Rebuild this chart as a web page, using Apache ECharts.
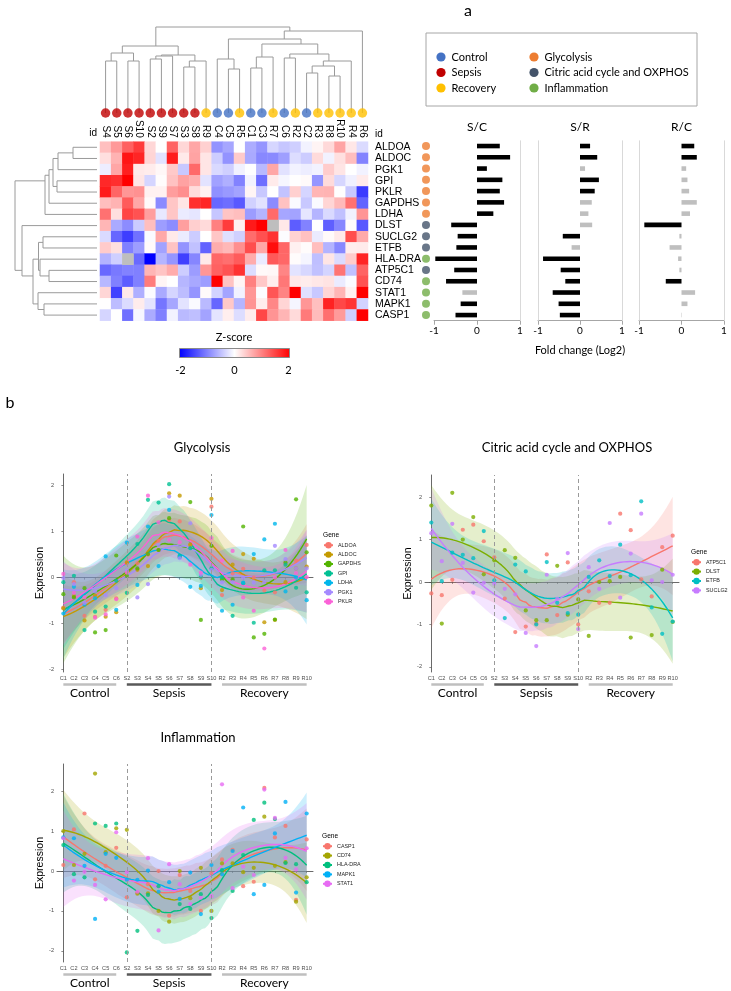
<!DOCTYPE html>
<html><head><meta charset="utf-8">
<script src="https://cdn.jsdelivr.net/npm/echarts@6/dist/echarts.min.js"></script>
<style>html,body{margin:0;padding:0;background:#fff}#c{width:731px;height:991px}</style>
</head><body><div id="c"></div>
<script>
// ================= DATA =================
const samples = ['C1','C2','C3','C4','C5','C6','S2','S3','S4','S5','S6','S7','S8','S9','S10','R2','R3','R4','R5','R6','R7','R8','R9','R10'];
const heatCols = ['S4','S5','S6','S10','S2','S9','S7','S3','S8','R9','C4','C5','R5','C1','C3','R7','C6','R2','C2','R3','R8','R10','R4','R6'];
const heatRows = ['ALDOA','ALDOC','PGK1','GPI','PKLR','GAPDHS','LDHA','DLST','SUCLG2','ETFB','HLA-DRA','ATP5C1','CD74','STAT1','MAPK1','CASP1'];
const rowPathway = ['G','G','G','G','G','G','G','C','C','C','I','C','I','I','I','I'];

// z-scored expression, in the order of `samples` (null = missing)
const zALDOA  = [-0.65,-0.10,-0.83,-0.85,-0.70,-0.45, 0.31,0.31,0.50,0.80,1.25,1.22,0.70,0.00,1.54, -0.38,0.09,0.19,0.00,-0.28,-0.32,0.30,0.37,0.71];
const zALDOC  = [-0.67,-0.40,-0.93,-0.39,-0.85,-0.75, 0.33,0.17,0.25,0.60,1.83,1.78,0.72,-0.23,1.71, -0.27,0.28,0.51,0.41,-0.97,-0.92,-0.10,0.20,0.24];
const zPGK1   = [-0.01,-0.14,-0.55,-0.30,-0.38,-0.23, 0.15,-0.43,-0.14,0.70,1.76,0.42,1.18,0.06,0.17, -0.10,-0.10,0.00,-0.11,-0.10,0.69,0.40,0.20,0.20];
const zGPI    = [-0.10,0.04,-1.14,-0.74,-0.63,-0.07, -0.33,0.73,1.69,1.63,2.03,0.48,0.64,0.02,0.20, 0.01,-0.83,-0.12,-0.98,0.16,0.16,0.28,-0.22,-0.32];
const zPKLR   = [0.08,-0.33,-0.43,-0.87,-0.80,-0.47, 0.11,0.89,1.78,1.20,0.82,0.77,0.28,0.11,0.86, 0.37,0.58,-0.43,-0.72,-1.54,0.00,0.60,0.10,0.01];
const zGAPDHS = [-0.36,-0.43,-0.23,-1.19,-1.14,0.48, 0.04,0.20,0.51,0.60,1.29,0.45,1.64,-0.92,0.69, -0.04,-0.04,1.11,-1.30,-1.22,-0.91,0.33,1.70,0.55];
const zLDHA   = [-0.78,-0.20,-0.59,-0.45,0.46,-0.70, 0.76,-0.16,1.11,0.25,1.47,0.45,-0.20,-0.18,1.36, -0.72,-0.59,-0.11,0.51,0.83,1.17,-0.30,0.00,-0.49];
const zDLST   = [1.80,-0.98,2.10,1.00,1.53,0.18, 0.51,0.75,0.57,-0.67,-0.90,-0.90,0.38,-0.77,-0.41, -1.27,0.00,0.02,0.12,-1.31,null,-1.25,0.29,-0.94];
const zSUCLG2 = [1.15,0.49,1.37,0.45,-0.25,-0.02, -0.04,-0.16,-0.29,-1.20,-1.51,0.17,-0.40,0.68,-1.11, 0.35,-0.16,1.39,-0.37,0.67,1.61,0.04,0.00,0.17];
const zETFB   = [1.40,0.02,0.69,0.64,0.56,1.20, 0.04,-0.85,0.41,0.25,-1.00,0.47,-0.49,-0.73,-0.77, 0.12,0.51,0.14,0.88,0.16,1.90,-0.60,-1.22,-0.93];
const zATP5C1 = [-0.27,-0.31,0.05,1.23,1.35,0.96, 0.58,-0.39,-1.18,-1.05,-0.98,0.65,-0.78,0.46,-1.00, -0.22,-0.49,-0.49,1.61,1.22,0.06,-0.34,0.82,1.09];
const zHLADRA = [0.65,-0.08,-0.16,1.19,1.13,1.19, -2.04,-1.50,-0.60,-0.38,null,-0.83,-0.95,-0.58,-1.18, 0.02,-0.50,0.40,1.28,1.71,1.30,0.20,0.17,-0.28];
const zCD74   = [1.00,0.15,0.43,2.44,0.47,1.07, 1.03,-0.57,-0.56,-1.00,-1.27,0.00,-0.68,0.08,-1.00, 0.19,0.19,-0.03,0.08,1.36,0.13,0.22,-0.77,-0.16];
const zSTAT1  = [0.82,-0.24,-0.02,-0.35,-0.71,0.97, -0.03,-0.52,0.32,-1.49,0.17,-0.33,-0.83,-0.67,-0.63, 2.17,-0.43,0.11,-0.10,2.04,1.33,0.33,0.04,0.57];
const zMAPK1  = [0.84,0.82,0.13,-1.20,0.43,0.33, -0.22,-0.22,0.01,-0.52,-0.28,-0.70,-0.04,-1.08,0.15, -0.08,0.50,1.59,-0.58,-0.35,0.94,1.73,-0.54,1.44];
const zCASP1  = [0.15,1.04,1.44,-0.21,0.13,0.58, -0.66,-0.54,-0.33,0.00,-1.12,-0.10,-0.50,-1.00,-0.06, 0.29,0.53,-0.38,-0.27,2.08,0.84,1.13,-0.72,0.79];

// dendrograms: [childA, childB, height]; numbers refer to earlier merges
const colTree = [
 ['S4','S5',52],['S6','S10',52],[0,1,60],['S2','S9',54],[3,'S7',57],['S3','S8',46],[5,'R9',52],[4,6,58],[2,7,67],
 ['C5','R5',44],['C4',9,54],['C1','C3',45],[11,'R7',56],['C6','R2',55],['C2','R3',40],['R8','R10',37],[14,15,47],[16,'R4',52],
 [13,17,59],[12,18,69],[10,19,74],[20,'R6',82],[8,21,86]
];
const rowTree = [
 ['ALDOA','ALDOC',24],[0,'PGK1',39],['GPI','PKLR',40],[1,2,44],[3,'GAPDHS',48],[4,'LDHA',52],
 ['SUCLG2','ETFB',54],['ATP5C1','CD74',48],['HLA-DRA',7,57],[6,8,58.5],['MAPK1','CASP1',53],['STAT1',10,59],
 [9,11,64],['DLST',12,75],[5,13,82]
];

// fold changes (log2), order of heatRows; sig: 1 = black, 0 = grey
const fcSC  = [0.53,0.77,0.23,0.59,0.53,0.63,0.38,-0.60,-0.45,-0.48,-0.97,-0.53,-0.72,-0.34,-0.38,-0.50];
const sigSC = [1,1,1,1,1,1,1,1,1,1,1,1,1,0,1,1];
const fcSR  = [0.24,0.41,0.12,0.45,0.35,0.28,0.20,0.29,-0.41,-0.20,-0.88,-0.46,-0.35,-0.65,-0.51,-0.48];
const sigSR = [1,1,0,1,1,0,0,0,1,0,1,1,1,1,1,1];
const fcRC  = [0.30,0.36,0.11,0.14,0.18,0.36,0.20,-0.875,-0.05,-0.28,-0.08,-0.05,-0.37,0.32,0.14,-0.01];
const sigRC = [1,1,0,0,0,0,0,1,0,0,0,0,1,0,0,0];

const glyGenes = ['ALDOA','ALDOC','GAPDHS','GPI','LDHA','PGK1','PKLR'];
const citGenes = ['ATP5C1','DLST','ETFB','SUCLG2'];
const infGenes = ['CASP1','CD74','HLA-DRA','MAPK1','STAT1'];
const groupSpans = [['Control','C1','C6'],['Sepsis','S2','S10'],['Recovery','R2','R10']];
const yTicks = [-2,-1,0,1,2];

// ================= STYLE =================
const expr = {ALDOA:zALDOA,ALDOC:zALDOC,PGK1:zPGK1,GPI:zGPI,PKLR:zPKLR,GAPDHS:zGAPDHS,LDHA:zLDHA,DLST:zDLST,SUCLG2:zSUCLG2,ETFB:zETFB,'HLA-DRA':zHLADRA,ATP5C1:zATP5C1,CD74:zCD74,STAT1:zSTAT1,MAPK1:zMAPK1,CASP1:zCASP1};
const groupColor = {C:'#4472C4', S:'#C00000', R:'#FFC000'};
const pathColor = {G:'#ED7D31', C:'#44546A', I:'#70AD47'};
const glyCol = ['#F8766D','#C49A00','#53B400','#00C094','#00B6EB','#A58AFF','#FB61D7'];
const citCol = ['#F8766D','#7CAE00','#00BFC4','#C77CFF'];
const infCol = ['#F8766D','#A3A500','#00BF7D','#00B0F6','#E76BF3'];
const CAL = 'Lato, "Open Sans", sans-serif';
const ARI = '"Liberation Sans", Arial, sans-serif';

function rgba(hex,a){const n=parseInt(hex.slice(1),16);return `rgba(${n>>16&255},${n>>8&255},${n&255},${a})`;}

// ---------- dendrogram segments (node position = centroid of its leaves) ----------
function dendro(leaves, tree){
  const pos={}; leaves.forEach((l,i)=>pos[l]={x:i,h:0,leaves:[i]});
  const nodes=[], segs=[];
  tree.forEach(([a,b,h],k)=>{
    const A = typeof a==='number'?nodes[a]:pos[a];
    const B = typeof b==='number'?nodes[b]:pos[b];
    segs.push([[A.x,A.h],[A.x,h],[B.x,h],[B.x,B.h]]);
    const lv=A.leaves.concat(B.leaves);
    nodes[k]={x:lv.reduce((s,v)=>s+v,0)/lv.length,h,leaves:lv};
  });
  return segs;
}

// ---------- loess (degree 2, span 0.75) with 95% CI ----------
function inv3(m){
  const [a,b,c]=m[0],[d,e,f]=m[1],[g,h,i]=m[2];
  const A=e*i-f*h,B=-(d*i-f*g),C=d*h-e*g;
  const det=a*A+b*B+c*C;
  return [[A/det,-(b*i-c*h)/det,(b*f-c*e)/det],[B/det,(a*i-c*g)/det,-(a*f-c*d)/det],[C/det,-(a*h-b*g)/det,(a*e-b*d)/det]];
}
function qt975(df){const z=1.959964,z3=z*z*z,z5=z3*z*z,z7=z5*z*z;
  return z+(z3+z)/(4*df)+(5*z5+16*z3+3*z)/(96*df*df)+(3*z7+19*z5+17*z3-15*z)/(384*df*df*df);}
function loess(xs, ys, span){
  const n=xs.length, q=Math.floor(n*span+1e-5);
  const rowAt=(x0)=>{
    const d=xs.map(x=>Math.abs(x-x0));
    const hh=d.slice().sort((a,b)=>a-b)[q-1]*1.0001;
    const w=d.map(di=>{const u=di/hh;return u<1?Math.pow(1-u*u*u,3):0;});
    const S=[[0,0,0],[0,0,0],[0,0,0]];
    for(let i=0;i<n;i++){const t=xs[i]-x0,v=[1,t,t*t];for(let a=0;a<3;a++)for(let b=0;b<3;b++)S[a][b]+=w[i]*v[a]*v[b];}
    const I=inv3(S);
    return xs.map((x,i)=>{const t=x-x0;return w[i]*(I[0][0]+I[0][1]*t+I[0][2]*t*t);});
  };
  const L=xs.map(rowAt);
  const M=L.map((r,i)=>r.map((v,j)=>(i===j?1:0)-v));
  let d1=0; for(let i=0;i<n;i++)for(let j=0;j<n;j++)d1+=M[i][j]*M[i][j];
  let d2=0;
  for(let i=0;i<n;i++)for(let j=0;j<n;j++){let s=0;for(let k=0;k<n;k++)s+=M[k][i]*M[k][j];d2+=s*s;}
  let rss=0; for(let i=0;i<n;i++){let f=0;for(let j=0;j<n;j++)f+=L[i][j]*ys[j];rss+=(ys[i]-f)*(ys[i]-f);}
  const sig=Math.sqrt(rss/d1), tq=qt975(d1*d1/d2);
  const lo=Math.min(...xs), hi=Math.max(...xs), out=[];
  for(let k=0;k<80;k++){
    const x0=lo+(hi-lo)*k/79, l=rowAt(x0);
    let f=0,s2=0; for(let j=0;j<n;j++){f+=l[j]*ys[j];s2+=l[j]*l[j];}
    const se=sig*Math.sqrt(s2);
    out.push([x0,f,f-tq*se,f+tq*se]);
  }
  return out;
}

// ================= OPTION =================
const grid=[], xAxis=[], yAxis=[], series=[], graphic=[], legend=[];
function addGrid(g){g.outerBoundsMode='none';g.containLabel=false;grid.push(g);return grid.length-1;}
const hidden={show:false};

// --- grid 0 : column dendrogram
const g0=addGrid({left:100,top:23,width:268,height:90});
xAxis.push({gridIndex:g0,type:'value',min:-0.5,max:23.5,show:false});
yAxis.push({gridIndex:g0,type:'value',min:0,max:90,show:false});
series.push({type:'lines',coordinateSystem:'cartesian2d',xAxisIndex:0,yAxisIndex:0,polyline:true,silent:true,
  lineStyle:{color:'#9a9a9a',width:1,opacity:1},
  data:dendro(heatCols,colTree).map(c=>({coords:c}))});
series.push({type:'scatter',xAxisIndex:0,yAxisIndex:0,symbolSize:9.5,silent:true,z:5,clip:false,
  data:heatCols.map((s,i)=>({value:[i,0],itemStyle:{color:groupColor[s[0]]}}))});

// --- grid 1 : heatmap
const g1=addGrid({left:100,top:141.7,width:268,height:179});
xAxis.push({gridIndex:g1,type:'category',data:heatCols,position:'top',axisLine:hidden,axisTick:hidden,splitLine:hidden,
  axisLabel:{interval:0,rotate:90,margin:4,fontSize:10,color:'#000',fontFamily:ARI}});
yAxis.push({gridIndex:g1,type:'category',data:heatRows,inverse:true,position:'right',axisLine:hidden,axisTick:hidden,
  axisLabel:{interval:0,margin:7,fontSize:10.5,color:'#000',fontFamily:ARI}});
const heatData=[], naData=[];
heatRows.forEach((g,r)=>heatCols.forEach((s,c)=>{
  const v=expr[g][samples.indexOf(s)];
  if(v===null) naData.push([c,r,0]); else heatData.push([c,r,v]);
}));
const heatSeriesIndex=series.length;
series.push({type:'heatmap',xAxisIndex:1,yAxisIndex:1,data:heatData,silent:true});
series.push({type:'heatmap',xAxisIndex:1,yAxisIndex:1,data:naData,silent:true,itemStyle:{color:'#BEBEBE'}});

// --- grid 2 : row dendrogram
const g2=addGrid({left:12,top:141.7,width:85,height:179});
xAxis.push({gridIndex:g2,type:'value',min:0,max:85,inverse:true,show:false});
yAxis.push({gridIndex:g2,type:'value',min:-0.5,max:15.5,inverse:true,show:false});
series.push({type:'lines',coordinateSystem:'cartesian2d',xAxisIndex:2,yAxisIndex:2,polyline:true,silent:true,
  lineStyle:{color:'#9a9a9a',width:1,opacity:1},
  data:dendro(heatRows,rowTree).map(c=>({coords:c.map(p=>[p[1],p[0]])}))});

// --- grids 3-5 : fold-change bars
const barPanels=[[fcSC,sigSC,434,86,'S/C',[1]],[fcSR,sigSR,538,84,'S/R',[-1,1]],[fcRC,sigRC,639,85,'R/C',[-1,1]]];
barPanels.forEach(([fc,sig,left,width,title,edges])=>{
  const gi=addGrid({left,top:140.4,width,height:180.3});
  const ai=xAxis.length;
  xAxis.push({gridIndex:gi,type:'value',min:-1,max:1,interval:1,splitLine:hidden,
    axisLine:{show:true,lineStyle:{color:'#A6A6A6',width:1}},axisTick:{show:true,length:4,lineStyle:{color:'#A6A6A6'}},
    axisLabel:{fontSize:10,color:'#000',margin:5,fontFamily:CAL}});
  yAxis.push({gridIndex:gi,type:'category',data:heatRows,inverse:true,show:false});
  series.push({type:'bar',xAxisIndex:ai,yAxisIndex:ai,barWidth:4.6,silent:true,
    data:fc.map((v,i)=>({value:v,itemStyle:{color:sig[i]?'#000000':'#BFBFBF'}})),
    markLine:{silent:true,symbol:['none','none'],label:{show:false},lineStyle:{type:'solid',color:'#D9D9D9',width:1},
      data:edges.map(e=>({xAxis:e}))}});
  graphic.push({type:'text',style:{text:title,x:left+width/2,y:127,textAlign:'center',textVerticalAlign:'middle',font:'12px '+CAL,fill:'#000'}});
});

// --- grid 6 : pathway dots
const g6=addGrid({left:421,top:140.4,width:10,height:180.3});
xAxis.push({gridIndex:g6,type:'value',min:0,max:1,show:false});
yAxis.push({gridIndex:g6,type:'category',data:heatRows,inverse:true,show:false});
series.push({type:'scatter',xAxisIndex:6,yAxisIndex:6,symbolSize:8,silent:true,
  data:heatRows.map((g,i)=>({value:[0.5,g],itemStyle:{color:pathColor[rowPathway[i]]}}))});

// --- ggplot panels
function panel(genes, cols, box, yr, legendBox, title){
  const gi=addGrid({left:box[0],top:box[1],width:box[2],height:box[3]});
  const ai=xAxis.length;
  xAxis.push({gridIndex:gi,type:'value',min:-0.6,max:23.6,splitLine:hidden,
    axisLine:{show:true,lineStyle:{color:'#444',width:0.8}},
    axisTick:{show:true,length:2,customValues:samples.map((s,i)=>i),lineStyle:{color:'#444',width:0.6}},
    axisLabel:{customValues:samples.map((s,i)=>i),formatter:v=>samples[Math.round(v)],fontSize:5.6,color:'#4D4D4D',margin:3,fontFamily:ARI}});
  yAxis.push({gridIndex:gi,type:'value',min:yr[0],max:yr[1],splitLine:hidden,
    axisLine:{show:true,lineStyle:{color:'#444',width:0.8}},
    axisTick:{show:true,length:2,customValues:yTicks,lineStyle:{color:'#444',width:0.6}},
    axisLabel:{customValues:yTicks,fontSize:5.6,color:'#4D4D4D',margin:3,fontFamily:ARI},
    name:'Expression',nameLocation:'middle',nameGap:11,nameTextStyle:{fontSize:10.5,color:'#000',fontFamily:ARI}});
  genes.forEach((g,k)=>{
    const xs=[],ys=[];
    expr[g].forEach((v,i)=>{if(v!==null){xs.push(i);ys.push(v);}});
    const fit=loess(xs,ys,0.75);
    const col=cols[k];
    series.push({type:'custom',name:'band '+g,xAxisIndex:ai,yAxisIndex:ai,silent:true,clip:true,z:1,
      data:fit.map(f=>[f[0],f[2],f[3]]),
      renderItem:(params,api)=>{
        if(params.dataIndex!==0) return null;
        const up=fit.map(f=>api.coord([f[0],f[3]]));
        const lo=fit.map(f=>api.coord([f[0],f[2]])).reverse();
        return {type:'polygon',shape:{points:up.concat(lo)},style:{fill:rgba(col,0.2)}};
      }});
    const line={type:'line',name:g,xAxisIndex:ai,yAxisIndex:ai,data:fit.map(f=>[f[0],f[1]]),showSymbol:false,symbol:'circle',symbolSize:4,
      lineStyle:{width:1.4,color:col},itemStyle:{color:col},z:3,silent:true,clip:true};
    if(k===0) line.markLine={silent:true,symbol:['none','none'],label:{show:false},
      lineStyle:{type:[4,3],color:'#9a9a9a',width:1},data:[{xAxis:samples.indexOf('S2')},{xAxis:samples.indexOf('S10')}]};
    series.push(line);
    series.push({type:'scatter',name:g,xAxisIndex:ai,yAxisIndex:ai,symbolSize:4.2,itemStyle:{color:col},z:4,silent:true,
      data:xs.map((x,i)=>[x,ys[i]])});
  });
  // group annotation under the axis
  series.push({type:'custom',xAxisIndex:ai,yAxisIndex:ai,clip:false,silent:true,z:5,
    data:groupSpans.map(s=>[samples.indexOf(s[1]),samples.indexOf(s[2])]),
    renderItem:(params,api)=>{
      const a=api.coord([api.value(0),yr[0]]), b=api.coord([api.value(1),yr[0]]);
      const nm=groupSpans[params.dataIndex][0], y=a[1]+12.5;
      return {type:'group',children:[
        {type:'line',shape:{x1:a[0],y1:y,x2:b[0],y2:y},style:{stroke:nm==='Sepsis'?'#595959':'#BFBFBF',lineWidth:2.6}},
        {type:'text',style:{text:nm,x:(a[0]+b[0])/2,y:y+8.5,textAlign:'center',textVerticalAlign:'middle',font:'12px '+CAL,fill:'#000'}}]};
    }});
  legend.push({data:genes,orient:'vertical',left:legendBox[0],top:legendBox[1],padding:0,itemWidth:9,itemHeight:8,itemGap:3,
    selectedMode:false,textStyle:{fontSize:5.4,color:'#222',fontFamily:ARI}});
  graphic.push({type:'text',style:{text:'Gene',x:legendBox[0],y:legendBox[1]-7,textVerticalAlign:'middle',font:'6.6px '+ARI,fill:'#000'}});
  graphic.push({type:'text',style:{text:title[0],x:title[1],y:title[2],textAlign:'center',textVerticalAlign:'middle',font:'13px '+CAL,fill:'#000'}});
}
panel(glyGenes,glyCol,[57,474,256,198],[-2.05,2.25],[323,542],['Glycolysis',202,448]);
panel(citGenes,citCol,[425,475,254,197],[-2.12,2.52],[691,559],['Citric acid cycle and OXPHOS',567,448]);
panel(infGenes,infCol,[57,764,256,198],[-2.28,2.68],[322,843],['Inflammation',198,738]);

// --- static graphics (labels, legend box, colour bar)
graphic.push({type:'text',style:{text:'a',x:468,y:11,textAlign:'center',textVerticalAlign:'middle',font:'16px '+CAL,fill:'#000'}});
graphic.push({type:'text',style:{text:'b',x:10,y:403,textAlign:'center',textVerticalAlign:'middle',font:'16px '+CAL,fill:'#000'}});
graphic.push({type:'text',style:{text:'id',x:97,y:133,textAlign:'right',textVerticalAlign:'middle',font:'10px '+ARI,fill:'#000'}});
graphic.push({type:'text',style:{text:'id',x:375,y:134,textAlign:'left',textVerticalAlign:'middle',font:'10px '+ARI,fill:'#000'}});
graphic.push({type:'rect',shape:{x:426,y:33,width:271,height:73},style:{fill:'none',stroke:'#A6A6A6',lineWidth:1}});
const legItems=[['Control',groupColor.C,441,57],['Sepsis',groupColor.S,441,72.5],['Recovery',groupColor.R,441,88],
  ['Glycolysis',pathColor.G,534,57],['Citric acid cycle and OXPHOS',pathColor.C,534,72.5],['Inflammation',pathColor.I,534,88]];
legItems.forEach(([t,c,x,y])=>{
  graphic.push({type:'circle',shape:{cx:x,cy:y,r:4.6},style:{fill:c}});
  graphic.push({type:'text',style:{text:t,x:x+10.5,y:y,textVerticalAlign:'middle',font:'11px '+CAL,fill:'#000'}});
});
graphic.push({type:'text',style:{text:'Fold change (Log2)',x:580,y:350,textAlign:'center',textVerticalAlign:'middle',font:'11px '+CAL,fill:'#000'}});
graphic.push({type:'text',style:{text:'Z-score',x:234,y:337,textAlign:'center',textVerticalAlign:'middle',font:'11px '+CAL,fill:'#000'}});
graphic.push({type:'rect',shape:{x:179.5,y:348.5,width:110,height:9},
  style:{stroke:'#8a8a8a',lineWidth:1,fill:new echarts.graphic.LinearGradient(0,0,1,0,[{offset:0,color:'#0000FF'},{offset:0.5,color:'#FFFFFF'},{offset:1,color:'#FF0000'}])}});
[['-2',180.5],['0',234.5],['2',288.5]].forEach(([t,x])=>graphic.push({type:'text',style:{text:t,x,y:370,textAlign:'center',textVerticalAlign:'middle',font:'11px '+CAL,fill:'#000'}}));

const chart=echarts.init(document.getElementById('c'),null,{renderer:'canvas'});
chart.setOption({
  animation:false,backgroundColor:'#fff',
  grid,xAxis,yAxis,series,legend,graphic,
  visualMap:{type:'continuous',show:false,min:-2,max:2,seriesIndex:[heatSeriesIndex],inRange:{color:['#0000FF','#FFFFFF','#FF0000']}}
});
</script></body></html>
